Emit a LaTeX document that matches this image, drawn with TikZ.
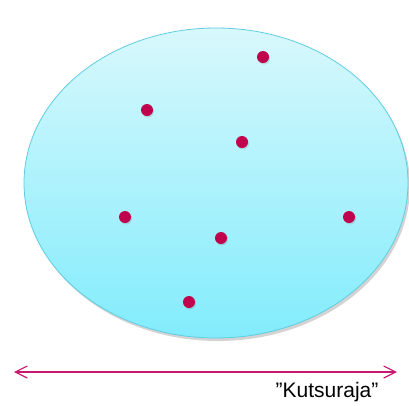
\documentclass[tikz,border=0pt]{standalone}
\usepackage{fontspec}
\setmainfont{Liberation Sans}
\usepackage{xcolor}
\usetikzlibrary{arrows.meta,shadows}
\definecolor{dotred}{RGB}{192,0,76}
\definecolor{arrowred}{RGB}{200,24,110}
\definecolor{cyantop}{RGB}{216,248,252}
\definecolor{cyanbot}{RGB}{130,236,252}
\definecolor{cyanrim}{RGB}{96,204,226}

\begin{document}
\begin{tikzpicture}[x=1pt,y=-1pt,>={Straight Barb[length=12pt,width=12pt]},
  pt/.style={circle,fill=dotred,inner sep=0pt,minimum size=12pt,
    drop shadow={opacity=0.25,shadow xshift=1pt,shadow yshift=-1.5pt}}]
  \useasboundingbox (0,0) rectangle (409,405);
  % the set
  \draw[cyanrim,line width=0.8pt,top color=cyantop,bottom color=cyanbot,
    drop shadow={opacity=0.35,shadow xshift=2pt,shadow yshift=-3pt}]
    (216,183) ellipse [x radius=192,y radius=155];
  % elements
  \node[pt] (p1) at (263,57) {};
  \node[pt] (p2) at (147,110) {};
  \node[pt] (p3) at (242,142) {};
  \node[pt] (p4) at (125,217) {};
  \node[pt] (p5) at (349,217) {};
  \node[pt] (p6) at (221,238) {};
  \node[pt] (p7) at (189,302) {};
  % range
  \coordinate (lo) at (14,372);
  \coordinate (hi) at (397,372);
  \draw[<->,arrowred,line width=1.2pt] (lo) -- (hi);
  \node[font=\fontsize{21}{25}\selectfont] (lbl) at (327,392) {”Kutsuraja”};
\end{tikzpicture}
\end{document}
